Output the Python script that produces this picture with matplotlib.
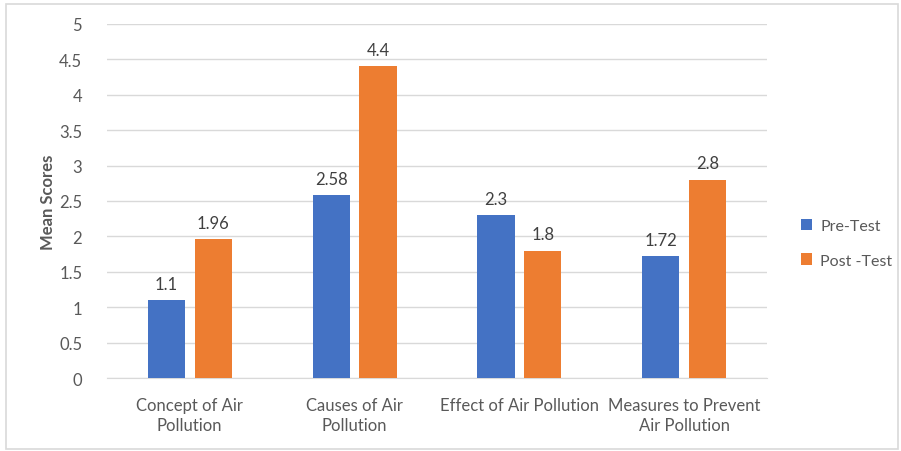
import numpy as np
import matplotlib
matplotlib.use('Agg')
import matplotlib.pyplot as plt
from matplotlib.patches import Rectangle

# chart data
categories = ['Concept of Air\nPollution', 'Causes of Air\nPollution',
              'Effect of Air Pollution', 'Measures to Prevent\nAir Pollution']
pre_test = [1.1, 2.58, 2.3, 1.72]
post_test = [1.96, 4.4, 1.8, 2.8]
series_names = ['Pre-Test', 'Post -Test']

plt.rcParams['font.family'] = ['Lato', 'DejaVu Sans']
grey = '#595959'

fig = plt.figure(figsize=(9.01, 4.52), dpi=100)
ax = fig.add_axes([0.119, 0.1615, 0.732, 0.7835])

# outer border like the Excel chart area
fig.patches.append(Rectangle((0.007, 0.004), 0.99, 0.985, transform=fig.transFigure,
                             fill=False, edgecolor='#d9d9d9', linewidth=1.2))

x = np.arange(len(categories))
w = 0.225
off = 0.142
b1 = ax.bar(x - off, pre_test, w, color='#4472c4', label=series_names[0], zorder=3)
b2 = ax.bar(x + off, post_test, w, color='#ed7d31', label=series_names[1], zorder=3)

for bars in (b1, b2):
    for b in bars:
        ax.text(b.get_x() + b.get_width() / 2, b.get_height() + 0.12,
                f'{b.get_height():g}', ha='center', va='bottom',
                fontsize=12, color='#404040')

ax.set_xlim(-0.5, len(categories) - 0.5)
ax.set_ylim(0, 5)
ax.set_yticks(np.arange(0, 5.01, 0.5))
ax.set_yticklabels([f'{v:g}' for v in np.arange(0, 5.01, 0.5)])
ax.set_xticks(x)
ax.set_xticklabels(categories, fontsize=12, color=grey, linespacing=1.3)
ax.tick_params(axis='y', labelsize=12, labelcolor=grey, length=0, pad=18)
ax.tick_params(axis='x', length=0, pad=14)

ax.grid(axis='y', color='#d9d9d9', linewidth=1, zorder=0)
for s in ['top', 'right', 'left']:
    ax.spines[s].set_visible(False)
ax.spines['bottom'].set_color('#d9d9d9')

ax.set_ylabel('Mean Scores', fontsize=12, fontweight='bold', color=grey, labelpad=2)

ax.legend(loc='center left', bbox_to_anchor=(1.03, 0.38), frameon=False,
          fontsize=11.5, labelcolor=grey, handlelength=0.7, handleheight=0.7,
          labelspacing=1.25, handletextpad=0.5)

plt.savefig('out.png', dpi=100)
